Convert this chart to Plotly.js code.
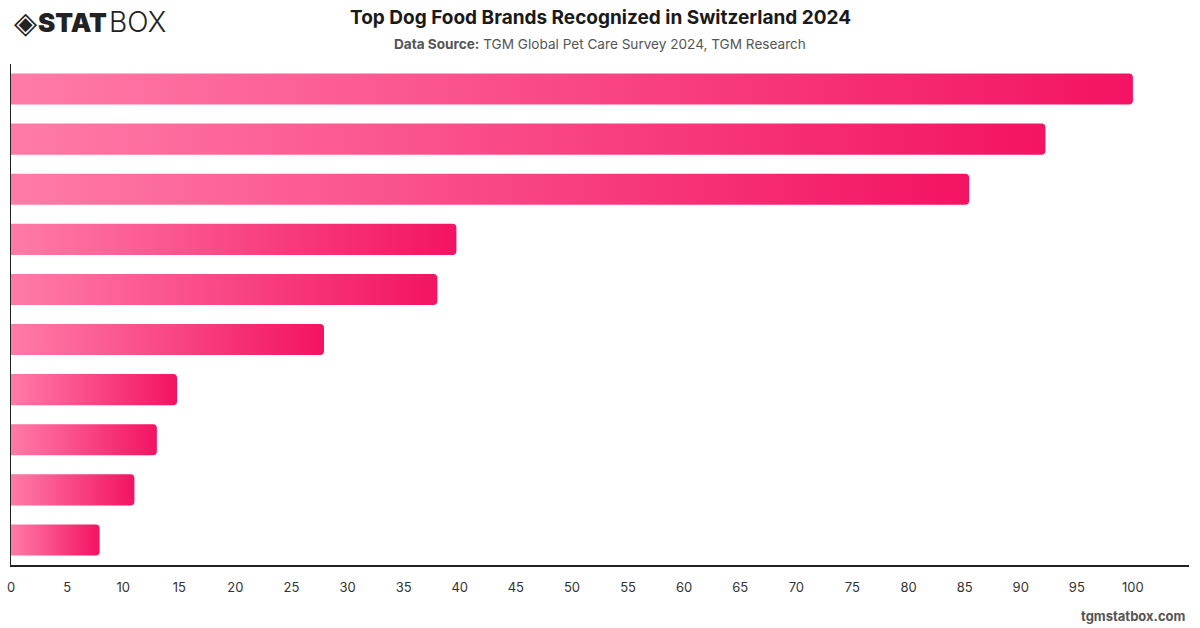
<!DOCTYPE html>
<html>
<head>
<meta charset="utf-8">
<script src="https://cdn.plot.ly/plotly-3.0.1.min.js"></script>
<style>
  html, body { margin: 0; padding: 0; background: #ffffff; }
  #chart { width: 1200px; height: 628px; }
</style>
</head>
<body>
<div id="chart"></div>
<script>
// Brand recognition scores (ranked, top first); brand names are not printed on the chart
const brands = ["Brand 1", "Brand 2", "Brand 3", "Brand 4", "Brand 5",
                "Brand 6", "Brand 7", "Brand 8", "Brand 9", "Brand 10"];
const scores = [100, 92.2, 85.4, 39.7, 38, 27.9, 14.8, 13, 11, 7.9];
const tickValues = [0, 5, 10, 15, 20, 25, 30, 35, 40, 45, 50, 55, 60, 65, 70, 75, 80, 85, 90, 95, 100];

const FONT = "Inter, 'Noto Sans', 'DejaVu Sans', sans-serif";

const trace = {
  type: "bar",
  orientation: "h",
  y: brands,
  x: scores,
  marker: { color: "#f7427f", line: { width: 0 } },
  hoverinfo: "x",
  showlegend: false
};

const layout = {
  width: 1200,
  height: 628,
  paper_bgcolor: "#ffffff",
  plot_bgcolor: "#ffffff",
  margin: { l: 11, r: 11, t: 64, b: 63 },
  bargap: 0.38,
  barcornerradius: 4,
  font: { family: FONT, color: "#333333" },
  xaxis: {
    range: [0, 105],
    tickvals: tickValues,
    ticktext: tickValues.map(String),
    showgrid: false,
    zeroline: false,
    showline: true,
    linecolor: "#222222",
    linewidth: 1.5,
    ticks: "outside",
    ticklen: 10,
    tickcolor: "rgba(0,0,0,0)",
    tickfont: { family: FONT, size: 13, color: "#333333" },
    fixedrange: true
  },
  yaxis: {
    autorange: "reversed",
    showticklabels: false,
    showgrid: false,
    zeroline: false,
    showline: true,
    linecolor: "#222222",
    linewidth: 1.5,
    ticks: "",
    fixedrange: true
  },
  annotations: [
    {
      xref: "paper", yref: "paper", x: 0.5, y: 1, yshift: 64 - 17,
      xanchor: "center", yanchor: "middle", showarrow: false,
      text: "Top Dog Food Brands Recognized in Switzerland 2024",
      font: { family: FONT, size: 19, color: "#1a1a1a", weight: 700 }
    },
    {
      xref: "paper", yref: "paper", x: 0.5, y: 1, yshift: 64 - 44,
      xanchor: "center", yanchor: "middle", showarrow: false,
      text: "<b>Data Source:</b> TGM Global Pet Care Survey 2024, TGM Research",
      font: { family: FONT, size: 13.6, color: "#555555" }
    },
    // logo mark and wordmark
    {
      xref: "paper", yref: "paper", x: -11 / 1178, y: 1, xshift: 12, yshift: 64 - 22,
      xanchor: "left", yanchor: "middle", showarrow: false,
      text: "◈",
      font: { family: "'DejaVu Sans', sans-serif", size: 30, color: "#222222" }
    },
    {
      xref: "paper", yref: "paper", x: -11 / 1178, y: 1, xshift: 36, yshift: 64 - 22,
      xanchor: "left", yanchor: "middle", showarrow: false,
      text: "STAT",
      font: { family: FONT, size: 26, color: "#222222", weight: 900 }
    },
    {
      xref: "paper", yref: "paper", x: -11 / 1178, y: 1, xshift: 107, yshift: 64 - 22,
      xanchor: "left", yanchor: "middle", showarrow: false,
      text: "BOX",
      font: { family: FONT, size: 28, color: "#222222", weight: 300 }
    },
    {
      xref: "paper", yref: "paper", x: 1, y: 0, xshift: -1, yshift: -(616 - 565),
      xanchor: "right", yanchor: "middle", showarrow: false,
      text: "tgmstatbox.com",
      font: { family: FONT, size: 13, color: "#555555", weight: 700 }
    }
  ]
};

// Paint each bar with a left-to-right pink gradient spanning its own length
function applyGradient(gd) {
  const svg = gd.querySelector("svg.main-svg");
  if (!svg) return;
  const ns = "http://www.w3.org/2000/svg";
  let defs = svg.querySelector("defs");
  if (!defs) { defs = document.createElementNS(ns, "defs"); svg.insertBefore(defs, svg.firstChild); }
  if (!svg.querySelector("#barPinkGradient")) {
    const grad = document.createElementNS(ns, "linearGradient");
    grad.setAttribute("id", "barPinkGradient");
    grad.setAttribute("x1", "0"); grad.setAttribute("y1", "0");
    grad.setAttribute("x2", "1"); grad.setAttribute("y2", "0");
    [["0%", "#ff7ba8"], ["100%", "#f31362"]].forEach(([off, col]) => {
      const s = document.createElementNS(ns, "stop");
      s.setAttribute("offset", off);
      s.setAttribute("stop-color", col);
      grad.appendChild(s);
    });
    defs.appendChild(grad);
  }
  gd.querySelectorAll(".barlayer .point path").forEach(p => {
    p.style.fill = "url(#barPinkGradient)";
  });
}

const gd = document.getElementById("chart");
Plotly.newPlot(gd, [trace], layout, { displayModeBar: false, staticPlot: true })
  .then(() => applyGradient(gd));
</script>
</body>
</html>
